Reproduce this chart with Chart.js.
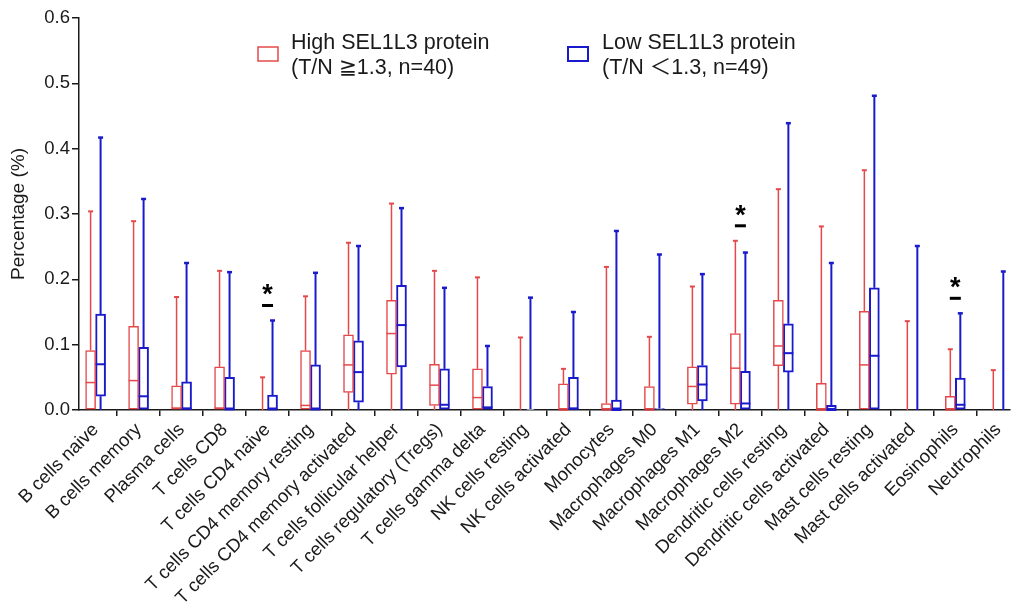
<!DOCTYPE html>
<html><head><meta charset="utf-8">
<script src="https://cdn.jsdelivr.net/npm/chart.js@4.4.1/dist/chart.umd.min.js"></script>
<style>html,body{margin:0;padding:0;background:#fff;}#wrap{width:1017px;height:613px;position:relative;}</style>
</head><body><div id="wrap"><canvas id="c" width="1017" height="613"></canvas></div>
<script>
const categories = ['B cells naive','B cells memory','Plasma cells','T cells CD8','T cells CD4 naive','T cells CD4 memory resting','T cells CD4 memory activated','T cells follicular helper','T cells regulatory (Tregs)','T cells gamma delta','NK cells resting','NK cells activated','Monocytes','Macrophages M0','Macrophages M1','Macrophages M2','Dendritic cells resting','Dendritic cells activated','Mast cells resting','Mast cells activated','Eosinophils','Neutrophils'];

// High SEL1L3 protein (red)
const highMax    = [0.304,0.289,0.173,0.213,0.050,0.174,0.256,0.316,0.213,0.203,0.111,0.063,0.219,0.112,0.189,0.259,0.338,0.281,0.367,0.136,0.093,0.061];
const highQ3     = [0.091,0.128,0.037,0.066,0.000,0.091,0.115,0.168,0.070,0.063,0.000,0.040,0.010,0.036,0.066,0.117,0.168,0.041,0.151,0.000,0.021,0.000];
const highMedian = [0.042,0.045,0.003,0.003,0.000,0.007,0.069,0.117,0.038,0.019,0.000,0.000,0.000,0.000,0.036,0.064,0.098,0.000,0.069,0.000,0.000,0.000];
const highQ1     = [0.000,0.000,0.000,0.000,0.000,0.000,0.027,0.055,0.007,0.000,0.000,0.000,0.000,0.000,0.009,0.009,0.068,0.000,0.000,0.000,0.000,0.000];
const highMin    = [0,0,0,0,0,0,0,0,0,0,0,0,0,0,0,0,0,0,0,0,0,0];

// Low SEL1L3 protein (blue)
const lowMax    = [0.417,0.323,0.225,0.211,0.137,0.210,0.251,0.309,0.187,0.098,0.172,0.150,0.274,0.238,0.208,0.241,0.439,0.225,0.481,0.251,0.148,0.212];
const lowQ3     = [0.147,0.096,0.043,0.050,0.023,0.069,0.106,0.191,0.063,0.036,0.001,0.050,0.015,0.002,0.068,0.059,0.132,0.007,0.187,0.000,0.049,0.000];
const lowMedian = [0.070,0.021,0.002,0.001,0.001,0.001,0.058,0.130,0.008,0.004,0.000,0.002,0.000,0.000,0.039,0.010,0.087,0.000,0.083,0.000,0.008,0.000];
const lowQ1     = [0.021,0.000,0.000,0.000,0.000,0.000,0.012,0.066,0.000,0.000,0.000,0.000,0.000,0.000,0.014,0.000,0.058,0.000,0.000,0.000,0.000,0.000];
const lowMin    = [0,0,0,0,0,0,0,0,0,0,0,0,0,0,0,0,0,0,0,0,0,0];

const highLegend = ['High SEL1L3 protein', '(T/N \u22671.3, n=40)'];
const lowLegend  = ['Low SEL1L3 protein', '(T/N \uFF1C1.3, n=49)'];
const significant = ['T cells CD4 naive','Macrophages M2','Eosinophils'];
const yTicks = [0.0,0.1,0.2,0.3,0.4,0.5,0.6];

const RED = '#E5484B', BLUE = '#1A1ACD', INK = '#1a1a1a';
const FONT = '"Liberation Sans", Arial, "DejaVu Sans", "Noto Sans CJK JP", sans-serif';

const series = [
  {max: highMax, q3: highQ3, med: highMedian, q1: highQ1, min: highMin, color: RED, lw: 1.5, legend: highLegend},
  {max: lowMax,  q3: lowQ3,  med: lowMedian,  q1: lowQ1,  min: lowMin,  color: BLUE, lw: 2, legend: lowLegend}
];

const boxPlugin = {
  id: 'boxplot',
  beforeDatasetsDraw(chart) {
    const ctx = chart.ctx, ys = chart.scales.y;
    series.forEach((s, d) => {
      const meta = chart.getDatasetMeta(d);
      ctx.save();
      ctx.strokeStyle = s.color; ctx.lineWidth = s.lw; ctx.lineCap = 'butt';
      meta.data.forEach((el, i) => {
        const x = el.x;
        const yMax = ys.getPixelForValue(s.max[i]), yQ3 = ys.getPixelForValue(s.q3[i]);
        const yQ1 = ys.getPixelForValue(s.q1[i]), yMin = ys.getPixelForValue(s.min[i]);
        ctx.beginPath();
        ctx.moveTo(x, yMax); ctx.lineTo(x, yQ3);
        ctx.moveTo(x, yQ1); ctx.lineTo(x, yMin);
        ctx.stroke();
        ctx.beginPath();
        ctx.lineWidth = s.lw + 0.5;
        ctx.moveTo(x - 2.5, yMax); ctx.lineTo(x + 2.5, yMax);
        ctx.stroke();
        ctx.lineWidth = s.lw;
      });
      ctx.restore();
    });
  },
  afterDatasetsDraw(chart) {
    const ctx = chart.ctx, ys = chart.scales.y, xs = chart.scales.x;
    series.forEach((s, d) => {
      const meta = chart.getDatasetMeta(d);
      ctx.save();
      ctx.strokeStyle = s.color; ctx.lineWidth = s.lw;
      meta.data.forEach((el, i) => {
        if (s.q3[i] - s.q1[i] < 0.004) return;
        const y = ys.getPixelForValue(s.med[i]);
        ctx.beginPath();
        ctx.moveTo(el.x - el.width / 2, y); ctx.lineTo(el.x + el.width / 2, y);
        ctx.stroke();
      });
      ctx.restore();
    });
    // significance marks
    ctx.save();
    significant.forEach(name => {
      const i = categories.indexOf(name);
      const x = xs.getPixelForValue(i);
      const top = Math.max(highMax[i], lowMax[i]);
      const yDash = ys.getPixelForValue(top) - 15;
      ctx.strokeStyle = '#000'; ctx.lineWidth = 3;
      ctx.beginPath(); ctx.moveTo(x - 5.5, yDash); ctx.lineTo(x + 5.5, yDash); ctx.stroke();
      ctx.fillStyle = '#000'; ctx.font = 'bold 27px ' + FONT;
      ctx.textAlign = 'center'; ctx.textBaseline = 'alphabetic';
      ctx.fillText('*', x, yDash - 2);
    });
    ctx.restore();
  },
  afterDraw(chart) {
    const ctx = chart.ctx;
    const pos = [{bx: 258, tx: 291}, {bx: 568, tx: 602}];
    ctx.save();
    series.forEach((s, d) => {
      const p = pos[d];
      ctx.strokeStyle = s.color; ctx.lineWidth = s.lw;
      ctx.fillStyle = '#fff';
      ctx.fillRect(p.bx, 47, 20, 14);
      ctx.strokeRect(p.bx, 47, 20, 14);
      ctx.fillStyle = INK; ctx.font = '21.5px ' + FONT;
      ctx.textAlign = 'left'; ctx.textBaseline = 'middle';
      ctx.fillText(s.legend[0], p.tx, 43);
      ctx.fillText(s.legend[1], p.tx, 68);
    });
    ctx.restore();
  }
};

const datasets = series.map((s, d) => ({
  type: 'bar',
  label: s.legend.join(' '),
  data: categories.map((c, i) => ({x: i, y: [s.q1[i], s.q3[i]]})),
  backgroundColor: '#ffffff',
  borderColor: s.color,
  borderWidth: s.lw,
  borderSkipped: false,
  barThickness: 10,
  grouped: true
}));

new Chart(document.getElementById('c'), {
  type: 'bar',
  data: {datasets},
  plugins: [boxPlugin],
  options: {
    responsive: false,
    animation: false,
    layout: {padding: {top: 18, right: 0, left: 0, bottom: 0}},
    plugins: {legend: {display: false}, tooltip: {enabled: false}},
    scales: {
      x: {
        type: 'linear', min: -0.386, max: 21.27, offset: false,
        afterBuildTicks: s => { s.ticks = categories.map((c, i) => ({value: i})); },
        afterFit: s => { s.height = 203; },
        ticks: {autoSkip: false, minRotation: 45, maxRotation: 45, padding: 3, color: INK,
          font: {size: 18.5, family: FONT}, callback: v => categories[v]},
        grid: {display: true, drawOnChartArea: false, drawTicks: true, tickLength: 6, color: INK, lineWidth: 1.5},
        border: {display: true, color: INK, width: 1.5}
      },
      y: {
        min: 0, max: 0.6,
        afterBuildTicks: s => { s.ticks = yTicks.map(v => ({value: v})); },
        afterFit: s => { s.width = 79; },
        ticks: {padding: 2, color: INK, font: {size: 18.5, family: FONT}, callback: v => v.toFixed(1)},
        grid: {display: true, drawOnChartArea: false, drawTicks: true, tickLength: 7, color: INK, lineWidth: 1.5},
        border: {display: true, color: INK, width: 1.5},
        title: {display: true, text: 'Percentage (%)', color: INK, font: {size: 19, family: FONT}, padding: {top: 7, bottom: 0}}
      }
    }
  }
});
</script></body></html>
